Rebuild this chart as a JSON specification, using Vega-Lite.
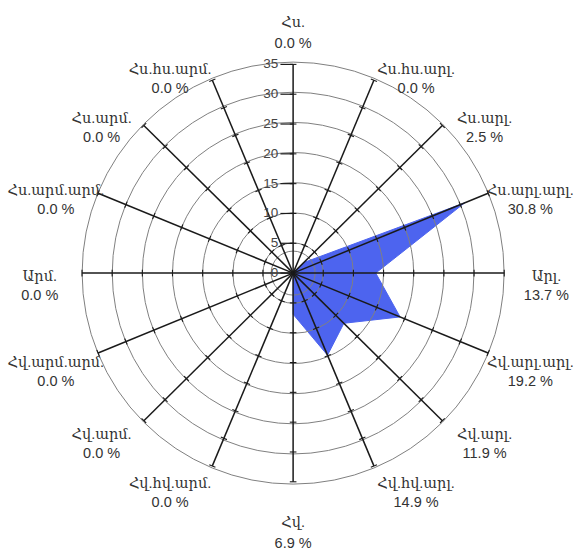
{
  "$schema": "https://vega.github.io/schema/vega-lite/v6.json",
  "width": 582,
  "height": 551,
  "padding": 0,
  "autosize": {"type": "fit", "contains": "padding"},
  "config": {"view": {"stroke": null}, "font": "Liberation Sans, DejaVu Serif, sans-serif"},
  "datasets": {
    "wind": [
      {"dir": "Հս.", "angle": 0, "value": 0.0},
      {"dir": "Հս.հս.արլ.", "angle": 22.5, "value": 0.0},
      {"dir": "Հս.արլ.", "angle": 45, "value": 2.5},
      {"dir": "Հս.արլ.արլ.", "angle": 67.5, "value": 30.8},
      {"dir": "Արլ.", "angle": 90, "value": 13.7},
      {"dir": "Հվ.արլ.արլ.", "angle": 112.5, "value": 19.2},
      {"dir": "Հվ.արլ.", "angle": 135, "value": 11.9},
      {"dir": "Հվ.հվ.արլ.", "angle": 157.5, "value": 14.9},
      {"dir": "Հվ.", "angle": 180, "value": 6.9},
      {"dir": "Հվ.հվ.արմ.", "angle": 202.5, "value": 0.0},
      {"dir": "Հվ.արմ.", "angle": 225, "value": 0.0},
      {"dir": "Հվ.արմ.արմ.", "angle": 247.5, "value": 0.0},
      {"dir": "Արմ.", "angle": 270, "value": 0.0},
      {"dir": "Հս.արմ.արմ.", "angle": 292.5, "value": 0.0},
      {"dir": "Հս.արմ.", "angle": 315, "value": 0.0},
      {"dir": "Հս.հս.արմ.", "angle": 337.5, "value": 0.0}
    ],
    "rings": [{"r": 5}, {"r": 10}, {"r": 15}, {"r": 20}, {"r": 25}, {"r": 30}, {"r": 35}],
    "radial": [{"r": 0}, {"r": 5}, {"r": 10}, {"r": 15}, {"r": 20}, {"r": 25}, {"r": 30}, {"r": 35}]
  },
  "layer": [
    {
      "data": {"name": "wind"},
      "transform": [
        {"calculate": "datum.value * sin(datum.angle * PI / 180)", "as": "px"},
        {"calculate": "datum.value * cos(datum.angle * PI / 180)", "as": "py"}
      ],
      "mark": {"type": "line", "interpolate": "linear-closed", "fill": "#4d64ef", "stroke": "#4d64ef", "strokeWidth": 1},
      "encoding": {
        "x": {"field": "px", "type": "quantitative", "scale": {"domain": [-48.6, 47.9], "nice": false, "zero": false}, "axis": null},
        "y": {"field": "py", "type": "quantitative", "scale": {"domain": [-45.6, 45.8], "nice": false, "zero": false}, "axis": null},
        "order": {"field": "angle", "type": "quantitative"}
      }
    },
    {
      "data": {"name": "rings"},
      "transform": [{"calculate": "0", "as": "cx"}],
      "mark": {"type": "point", "shape": "circle", "filled": false, "stroke": "#808080", "strokeWidth": 1, "opacity": 1},
      "encoding": {
        "x": {"field": "cx", "type": "quantitative"},
        "y": {"field": "cx", "type": "quantitative"},
        "size": {"field": "r", "type": "quantitative", "legend": null, "scale": {"type": "pow", "exponent": 2, "domain": [0, 35], "range": [0, 178084], "zero": true}}
      }
    },
    {
      "data": {"values": [{"cx": 0}]},
      "mark": {"type": "point", "shape": "circle", "filled": false, "stroke": "#808080", "strokeWidth": 1, "opacity": 1, "size": 1936},
      "encoding": {
        "x": {"field": "cx", "type": "quantitative"},
        "y": {"field": "cx", "type": "quantitative"}
      }
    },
    {
      "data": {"name": "wind"},
      "transform": [
        {"calculate": "0", "as": "ox"},
        {"calculate": "35 * sin(datum.angle * PI / 180)", "as": "ex"},
        {"calculate": "35 * cos(datum.angle * PI / 180)", "as": "ey"}
      ],
      "mark": {"type": "rule", "color": "#1a1a1a", "strokeWidth": 1.5},
      "encoding": {
        "x": {"field": "ox", "type": "quantitative"},
        "y": {"field": "ox", "type": "quantitative"},
        "x2": {"field": "ex"},
        "y2": {"field": "ey"}
      }
    },
    {
      "data": {"name": "wind"},
      "transform": [
        {"impute": "value", "key": "r", "keyvals": [5, 10, 15, 20, 25, 30, 35], "groupby": ["angle"], "value": 0},
        {"filter": "isValid(datum.r) && datum.r > 0"},
        {"calculate": "datum.r * sin(datum.angle * PI / 180) - 0.55 * cos(datum.angle * PI / 180)", "as": "tx1"},
        {"calculate": "datum.r * cos(datum.angle * PI / 180) + 0.55 * sin(datum.angle * PI / 180)", "as": "ty1"},
        {"calculate": "datum.r * sin(datum.angle * PI / 180) + 0.55 * cos(datum.angle * PI / 180)", "as": "tx2"},
        {"calculate": "datum.r * cos(datum.angle * PI / 180) - 0.55 * sin(datum.angle * PI / 180)", "as": "ty2"}
      ],
      "mark": {"type": "rule", "color": "#1a1a1a", "strokeWidth": 1.1},
      "encoding": {
        "x": {"field": "tx1", "type": "quantitative"},
        "y": {"field": "ty1", "type": "quantitative"},
        "x2": {"field": "tx2"},
        "y2": {"field": "ty2"}
      }
    },
    {
      "data": {"name": "radial"},
      "transform": [
        {"calculate": "-2.1", "as": "t1"},
        {"calculate": "0", "as": "t2"}
      ],
      "mark": {"type": "rule", "color": "#1a1a1a", "strokeWidth": 1.2},
      "encoding": {
        "x": {"field": "t1", "type": "quantitative"},
        "x2": {"field": "t2"},
        "y": {"field": "r", "type": "quantitative"}
      }
    },
    {
      "data": {"name": "radial"},
      "transform": [{"calculate": "-2.3", "as": "t1"}],
      "mark": {"type": "text", "align": "right", "baseline": "middle", "fontSize": 13.5, "color": "#444444", "dx": -1},
      "encoding": {
        "x": {"field": "t1", "type": "quantitative"},
        "y": {"field": "r", "type": "quantitative"},
        "text": {"field": "r", "type": "quantitative"}
      }
    },
    {
      "data": {"name": "wind"},
      "transform": [
        {"filter": "datum.angle != 0 && datum.angle != 180"},
        {"calculate": "datum.dir + '\\n' + format(datum.value, '.1f') + ' %'", "as": "label"},
        {"calculate": "35 * sin(datum.angle * PI / 180) + 7 * (sin(datum.angle * PI / 180) > 0 ? 1 : -1)", "as": "lx"},
        {"calculate": "37.5 * cos(datum.angle * PI / 180) - 0.66", "as": "ly"}
      ],
      "mark": {"type": "text", "align": "center", "baseline": "middle", "fontSize": 14.5, "lineHeight": 19, "lineBreak": "\n", "color": "#333333"},
      "encoding": {
        "x": {"field": "lx", "type": "quantitative"},
        "y": {"field": "ly", "type": "quantitative"},
        "text": {"field": "label", "type": "nominal"}
      }
    },
    {
      "data": {"name": "wind"},
      "transform": [
        {"filter": "datum.angle == 0 || datum.angle == 180"},
        {"calculate": "datum.dir + '\\n' + format(datum.value, '.1f') + ' %'", "as": "label"},
        {"calculate": "41.9 * sin(datum.angle * PI / 180)", "as": "lx"},
        {"calculate": "41.9 * cos(datum.angle * PI / 180)", "as": "ly"}
      ],
      "mark": {"type": "text", "align": "center", "baseline": "middle", "fontSize": 14.5, "lineHeight": 21, "lineBreak": "\n", "color": "#333333"},
      "encoding": {
        "x": {"field": "lx", "type": "quantitative"},
        "y": {"field": "ly", "type": "quantitative"},
        "text": {"field": "label", "type": "nominal"}
      }
    }
  ]
}
